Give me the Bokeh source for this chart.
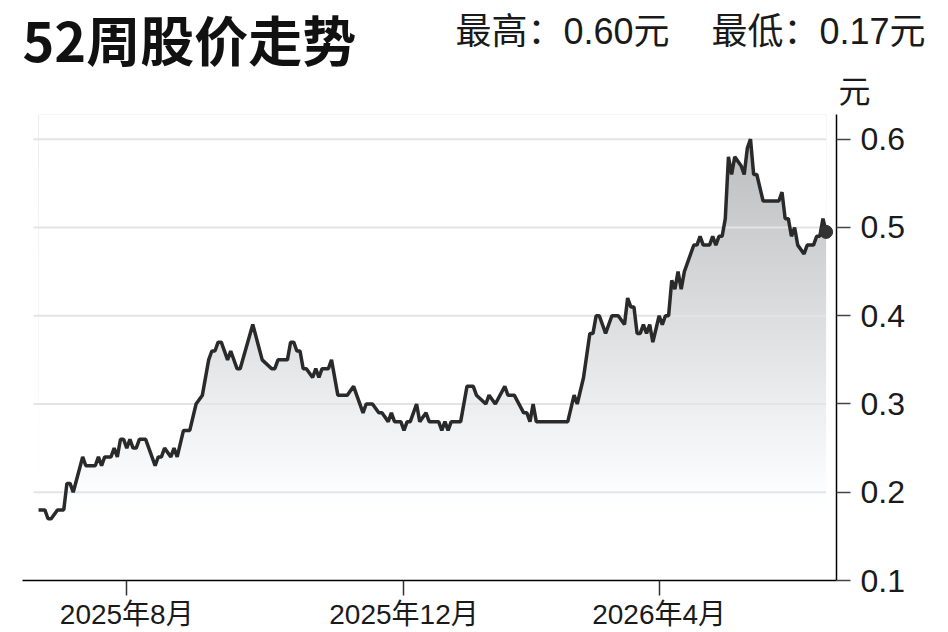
import numpy as np
from bokeh.plotting import figure
from bokeh.models import Range1d, FixedTicker
from bokeh.core.properties import value
from bokeh.embed import file_html
from bokeh.resources import INLINE

# trading-session index and closing price (yuan) at each turning point
day = [0, 2, 3, 4, 6, 8, 9, 10, 11, 14, 15, 18, 19, 20, 21, 23, 24, 25, 26, 27,
       28, 29, 30, 31, 32, 34, 36, 37, 38, 39, 40, 42, 43, 44, 46, 48, 50, 52, 54, 55,
       56, 57, 58, 60, 61, 63, 64, 68, 71, 74, 75, 76, 79, 80, 81, 82, 83, 84, 85, 87,
       88, 89, 90, 92, 93, 95, 98, 100, 103, 104, 106, 108, 109, 111, 112, 113, 115, 116, 117, 118,
       120, 121, 123, 124, 127, 128, 129, 130, 131, 134, 136, 138, 139, 142, 143, 145, 148, 149, 151, 154,
       155, 156, 157, 158, 168, 170, 171, 173, 175, 176, 177, 178, 180, 182, 184, 186, 187, 188, 189, 190,
       191, 192, 193, 194, 195, 197, 198, 199, 200, 201, 202, 203, 204, 205, 208, 209, 210, 211, 213, 214,
       215, 216, 217, 218, 219, 220, 221, 223, 224, 225, 226, 227, 228, 230, 231, 235, 236, 237, 238, 239,
       240, 241, 243, 244, 246, 247, 248, 249, 250]
price = [0.18, 0.18, 0.17, 0.17, 0.18, 0.18, 0.21, 0.21, 0.20, 0.24, 0.23, 0.23, 0.24, 0.23, 0.24, 0.24, 0.25, 0.24, 0.26, 0.26,
         0.25, 0.26, 0.25, 0.25, 0.26, 0.26, 0.24, 0.23, 0.24, 0.24, 0.25, 0.24, 0.25, 0.24, 0.27, 0.27, 0.30, 0.31, 0.35, 0.36,
         0.36, 0.37, 0.37, 0.35, 0.36, 0.34, 0.34, 0.39, 0.35, 0.34, 0.34, 0.35, 0.35, 0.37, 0.37, 0.36, 0.36, 0.34, 0.34, 0.33,
         0.34, 0.33, 0.34, 0.34, 0.35, 0.31, 0.31, 0.32, 0.29, 0.30, 0.30, 0.29, 0.29, 0.28, 0.29, 0.28, 0.28, 0.27, 0.28, 0.28,
         0.30, 0.28, 0.29, 0.28, 0.28, 0.27, 0.28, 0.27, 0.28, 0.28, 0.32, 0.32, 0.31, 0.30, 0.31, 0.30, 0.32, 0.31, 0.31, 0.29,
         0.29, 0.28, 0.30, 0.28, 0.28, 0.31, 0.30, 0.33, 0.38, 0.38, 0.40, 0.40, 0.38, 0.40, 0.40, 0.39, 0.42, 0.41, 0.41, 0.38,
         0.38, 0.39, 0.38, 0.39, 0.37, 0.40, 0.39, 0.40, 0.40, 0.44, 0.43, 0.45, 0.43, 0.45, 0.48, 0.48, 0.49, 0.48, 0.48, 0.49,
         0.48, 0.49, 0.49, 0.51, 0.58, 0.56, 0.58, 0.57, 0.56, 0.59, 0.60, 0.56, 0.56, 0.53, 0.53, 0.53, 0.54, 0.51, 0.51, 0.49,
         0.50, 0.48, 0.47, 0.48, 0.48, 0.49, 0.49, 0.51, 0.495]

x_tick_pos = [28, 116, 197]
x_tick_labels = ["2025年8月", "2025年12月", "2026年4月"]
y_ticks = [0.1, 0.2, 0.3, 0.4, 0.5, 0.6]

title_text = "52周股价走势"
high_text = "最高：0.60元"
low_text = "最低：0.17元"
unit_text = "元"

Y0, Y1 = 0.1, 0.628
X0, X1 = -5.1, 253.3

W = 948
HEAD_H = 114
MAIN_H = 518

# ---------------- header strip (pixel space) ----------------
head = figure(width=W, height=HEAD_H, output_backend="svg", toolbar_location=None,
              x_range=Range1d(0, W), y_range=Range1d(HEAD_H, 0),
              min_border=0, x_axis_type=None, y_axis_type=None)
head.outline_line_color = None
head.grid.visible = False

head.text(x=[22], y=[38], text=[title_text], text_align="left", text_baseline="middle",
          text_font=value("Noto Sans CJK SC"), text_font_style="bold",
          text_font_size="54px", text_color="#111111")
head.text(x=[455], y=[31], text=[high_text], text_align="left", text_baseline="middle",
          text_font=value("Liberation Sans, Noto Sans CJK SC"),
          text_font_size="36px", text_color="#1a1a1a")
head.text(x=[925], y=[31], text=[low_text], text_align="right", text_baseline="middle",
          text_font=value("Liberation Sans, Noto Sans CJK SC"),
          text_font_size="36px", text_color="#1a1a1a")
head.text(x=[854], y=[88], text=[unit_text], text_align="center", text_baseline="middle",
          text_font=value("Noto Sans CJK SC"),
          text_font_size="32px", text_color="#1a1a1a")

# ---------------- main chart ----------------
p = figure(width=W, height=MAIN_H, output_backend="svg", toolbar_location=None,
           x_range=Range1d(X0, X1), y_range=Range1d(Y0, Y1),
           y_axis_location="right",
           min_border_left=22, min_border_right=112, min_border_top=0, min_border_bottom=0)
p.outline_line_color = None
p.grid.visible = False

# vertical gradient fill under the line
n = 300
yy = np.linspace(Y0, Y1, n)
g = np.clip(255 - (yy - 0.18) * 160, 180, 255).astype(np.uint32)
img = np.empty((n, 1), dtype=np.uint32)
view = img.view(dtype=np.uint8).reshape((n, 1, 4))
view[:, 0, 0] = g
view[:, 0, 1] = np.clip(g + 2, 0, 255)
view[:, 0, 2] = np.clip(g + 4, 0, 255)
view[:, 0, 3] = 255
p.image_rgba(image=[img], x=day[0], y=Y0, dw=day[-1] - day[0], dh=Y1 - Y0)

# white mask above the line
p.varea(x=day, y1=price, y2=[Y1 + 0.1] * len(day), fill_color="white")

# grid lines
grid_vals = y_ticks[1:]
p.segment(x0=[day[0] - 1.6] * len(grid_vals), x1=[day[-1]] * len(grid_vals),
          y0=grid_vals, y1=grid_vals, line_color="#e4e4e4", line_width=2)

p.line(day, price, line_color="#2a2a2a", line_width=3.5)
p.scatter([day[-1]], [price[-1]], size=13, color="#333333")

ya = p.yaxis[0]
ya.ticker = FixedTicker(ticks=y_ticks)
ya.axis_line_color = "black"
ya.axis_line_width = 1.5
ya.major_tick_out = 14
ya.major_tick_in = 0
ya.major_tick_line_color = "#444444"
ya.major_tick_line_width = 1.5
ya.minor_tick_out = 0
ya.minor_tick_in = 0
ya.major_label_standoff = 10
ya.major_label_text_font = "Liberation Sans"
ya.major_label_text_font_size = "32px"
ya.major_label_text_color = "#1a1a1a"

xa = p.xaxis[0]
xa.ticker = FixedTicker(ticks=x_tick_pos)
xa.major_label_overrides = {pos: lab for pos, lab in zip(x_tick_pos, x_tick_labels)}
xa.axis_line_color = "black"
xa.axis_line_width = 1.5
xa.major_tick_out = 15
xa.major_tick_in = 0
xa.major_tick_line_color = "#333333"
xa.major_tick_line_width = 1.5
xa.minor_tick_out = 0
xa.minor_tick_in = 0
xa.major_label_standoff = 3
xa.major_label_text_font = "Liberation Sans, Noto Sans CJK SC"
xa.major_label_text_font_size = "28px"
xa.major_label_text_color = "#1a1a1a"

open("out.html", "w").write(file_html([head, p], INLINE))
